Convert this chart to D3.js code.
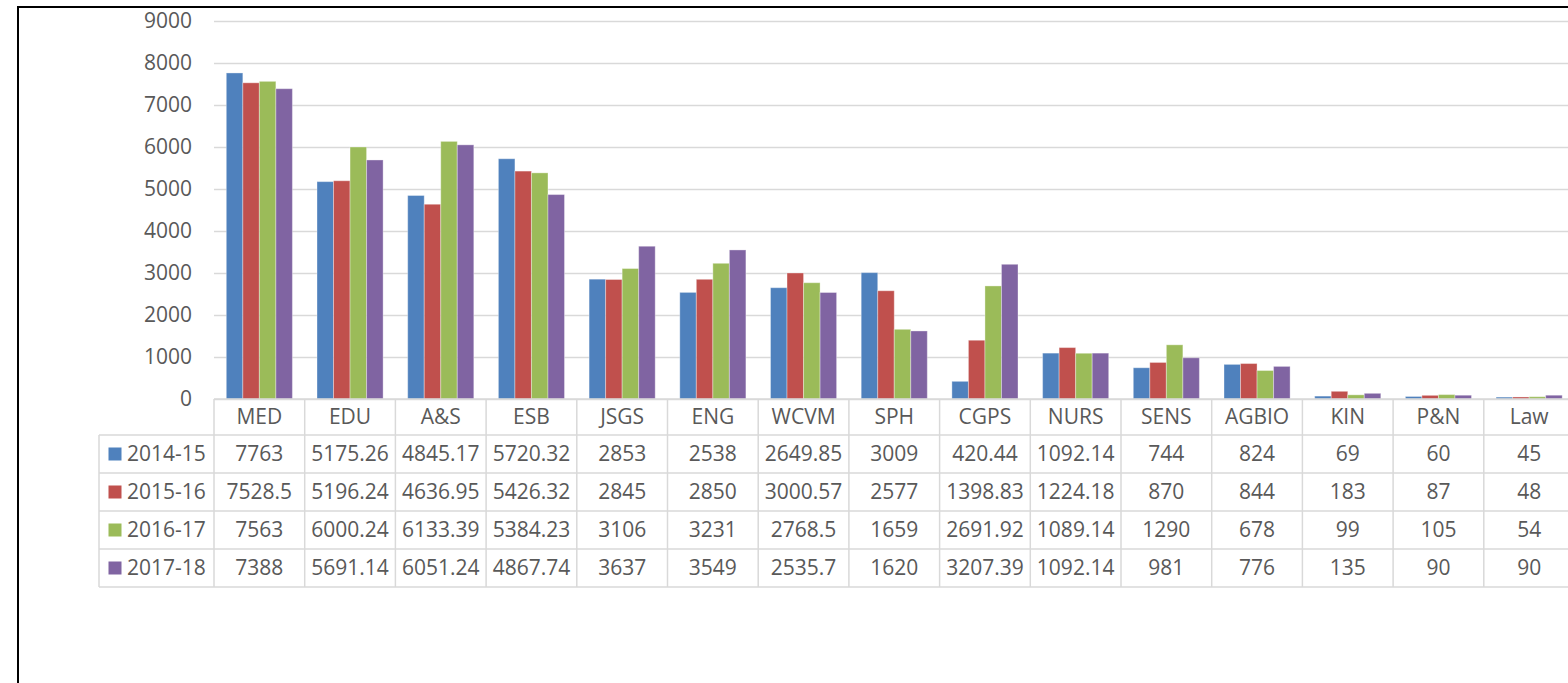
<!DOCTYPE html>
<html>
<head>
<meta charset="utf-8">
<script src="https://cdn.jsdelivr.net/npm/d3@7"></script>
<style>
  html, body { margin: 0; padding: 0; background: #fff; }
  svg { display: block; }
  text { font-family: "Open Sans", "Noto Sans", sans-serif; fill: #595959; }
</style>
</head>
<body>
<svg id="chart" width="1568" height="683"></svg>
<script>
// Faculties along the horizontal axis
const categories = ["MED", "EDU", "A&S", "ESB", "JSGS", "ENG", "WCVM", "SPH", "CGPS", "NURS", "SENS", "AGBIO", "KIN", "P&N", "Law"];

// Yearly values per faculty
const seriesNames = ["2014-15", "2015-16", "2016-17", "2017-18"];
const values2014 = [7763, 5175.26, 4845.17, 5720.32, 2853, 2538, 2649.85, 3009, 420.44, 1092.14, 744, 824, 69, 60, 45];
const values2015 = [7528.5, 5196.24, 4636.95, 5426.32, 2845, 2850, 3000.57, 2577, 1398.83, 1224.18, 870, 844, 183, 87, 48];
const values2016 = [7563, 6000.24, 6133.39, 5384.23, 3106, 3231, 2768.5, 1659, 2691.92, 1089.14, 1290, 678, 99, 105, 54];
const values2017 = [7388, 5691.14, 6051.24, 4867.74, 3637, 3549, 2535.7, 1620, 3207.39, 1092.14, 981, 776, 135, 90, 90];
const seriesValues = [values2014, values2015, values2016, values2017];
const seriesColors = ["#4F81BD", "#C0504D", "#9BBB59", "#8064A2"];

// Value axis ticks
const yTicks = [0, 1000, 2000, 3000, 4000, 5000, 6000, 7000, 8000, 9000];

const svg = d3.select("#chart");

// Layout
const plotLeft = 214, catWidth = 90.7;
const plotRight = plotLeft + catWidth * categories.length;
const plotTop = 21, plotBottom = 399;
const headerBottom = 435, rowH = 38;
const legendLeft = 99;
const gridColor = "#d9d9d9";

const x = d3.scaleBand().domain(categories).range([plotLeft, plotRight]).padding(0);
const xInner = d3.scaleBand().domain(seriesNames).range([12.3, catWidth - 12.3]).padding(0);
const y = d3.scaleLinear().domain([0, 9000]).range([plotBottom, plotTop]);

// Outer frame
svg.append("path")
  .attr("d", `M18,${683 + 5} V7 H${1568 + 5}`)
  .attr("fill", "none").attr("stroke", "#000").attr("stroke-width", 2);

// Gridlines
const yAxis = d3.axisLeft(y).tickValues(yTicks).tickSize(-(plotRight - plotLeft)).tickPadding(22).tickFormat(d3.format("d"));
const gAxis = svg.append("g").attr("transform", `translate(${plotLeft},0)`).call(yAxis);
gAxis.select(".domain").remove();
gAxis.selectAll(".tick line").attr("stroke", gridColor).attr("stroke-width", 1.5);
gAxis.selectAll(".tick text")
  .attr("font-size", 21)
  .attr("font-family", "'Open Sans', sans-serif")
  .attr("fill", "#595959");

// Bars
const groups = svg.append("g").selectAll("g.cat")
  .data(categories)
  .join("g")
  .attr("transform", d => `translate(${x(d)},0)`);

groups.selectAll("rect")
  .data((c, i) => seriesNames.map((s, k) => ({ s, k, v: seriesValues[k][i] })))
  .join("rect")
  .attr("x", d => xInner(d.s))
  .attr("width", xInner.bandwidth())
  .attr("y", d => y(d.v))
  .attr("height", d => plotBottom - y(d.v))
  .attr("fill", d => seriesColors[d.k])
  .attr("stroke", "rgba(255,255,255,0.35)")
  .attr("stroke-width", 1);

// Data table
const table = svg.append("g");
const tableBottom = headerBottom + rowH * seriesNames.length;

// horizontal rules
table.append("line")
  .attr("x1", plotLeft).attr("x2", plotRight + 10)
  .attr("y1", plotBottom).attr("y2", plotBottom)
  .attr("stroke", gridColor).attr("stroke-width", 1.5);
for (let r = 0; r <= seriesNames.length; r++) {
  const yy = headerBottom + r * rowH;
  table.append("line")
    .attr("x1", legendLeft).attr("x2", plotRight + 10)
    .attr("y1", yy).attr("y2", yy)
    .attr("stroke", gridColor).attr("stroke-width", 1.5);
}
// vertical rules
table.append("line")
  .attr("x1", legendLeft).attr("x2", legendLeft)
  .attr("y1", headerBottom).attr("y2", tableBottom)
  .attr("stroke", gridColor).attr("stroke-width", 1.5);
categories.concat(["_end"]).forEach((c, i) => {
  const xx = plotLeft + i * catWidth;
  table.append("line")
    .attr("x1", xx).attr("x2", xx)
    .attr("y1", plotBottom).attr("y2", tableBottom)
    .attr("stroke", gridColor).attr("stroke-width", 1.5);
});

// header labels
table.selectAll("text.cat")
  .data(categories)
  .join("text")
  .attr("class", "cat")
  .attr("x", d => x(d) + catWidth / 2)
  .attr("y", (plotBottom + headerBottom) / 2)
  .attr("dy", "0.35em")
  .attr("text-anchor", "middle")
  .attr("font-size", 21)
  .text(d => d);

// legend keys and series rows
seriesNames.forEach((s, k) => {
  const cy = headerBottom + k * rowH + rowH / 2;
  table.append("rect")
    .attr("x", 108.5).attr("y", cy - 6.5)
    .attr("width", 13).attr("height", 13)
    .attr("fill", seriesColors[k]);
  table.append("text")
    .attr("x", 127).attr("y", cy).attr("dy", "0.35em")
    .attr("font-size", 21)
    .text(s);
  table.selectAll(null)
    .data(seriesValues[k])
    .join("text")
    .attr("x", (v, i) => x(categories[i]) + catWidth / 2)
    .attr("y", cy).attr("dy", "0.35em")
    .attr("text-anchor", "middle")
    .attr("font-size", 21)
    .text(v => String(v));
});
</script>
</body>
</html>
